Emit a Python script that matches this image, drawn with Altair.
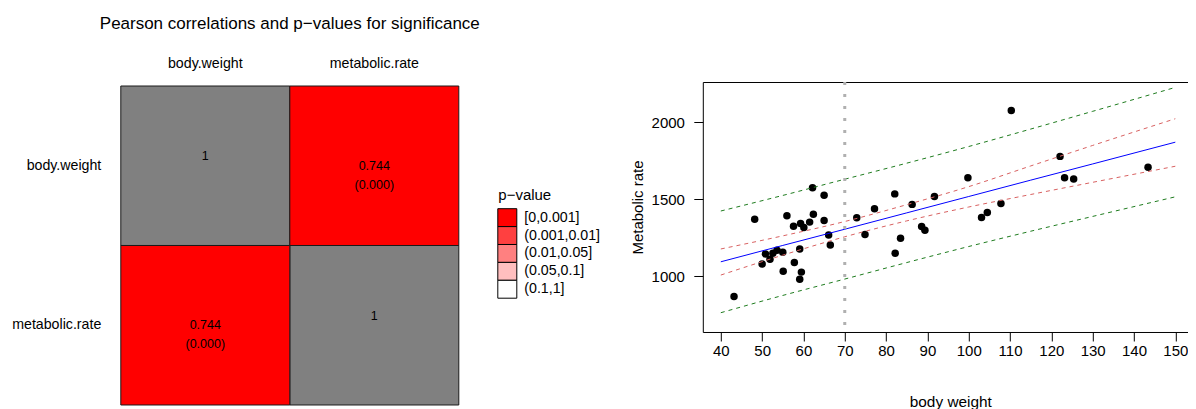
import altair as alt
import pandas as pd

FONT = "Liberation Sans"

# ---------------- correlation heat map ----------------
variables = ["body.weight", "metabolic.rate"]
cell_cols = ["body.weight", "metabolic.rate", "body.weight", "metabolic.rate"]
cell_rows = ["body.weight", "body.weight", "metabolic.rate", "metabolic.rate"]
cell_is_diag = [True, False, False, True]
cell_text = ["1", "0.744\n(0.000)", "0.744\n(0.000)", "1"]
cell_pbin = ["", "[0,0.001]", "[0,0.001]", ""]

pval_title = "p−value"
pval_bins = ["[0,0.001]", "(0.001,0.01]", "(0.01,0.05]", "(0.05,0.1]", "(0.1,1]"]
pval_colors = ["#FF0000", "#FF4040", "#FF8080", "#FFBFBF", "#FFFFFF"]

# ---------------- scatter with regression bands ----------------
body_weight = [43.2, 48.2, 50.0, 50.8, 51.9, 52.6, 53.6, 55.0, 55.1, 56.0,
               57.6, 57.8, 59.1, 59.3, 59.5, 59.1, 60.1, 61.5, 62.4, 62.2,
               65.0, 65.0, 66.1, 66.5, 72.9, 74.9, 77.2, 82.1, 82.2, 83.5,
               86.3, 88.6, 89.4, 91.7, 99.8, 103.1, 104.5, 107.8, 110.3, 122.1,
               123.2, 125.4, 143.4]
metabolic_rate = [870, 1371, 1080, 1146, 1112, 1151, 1170, 1157, 1033, 1393,
                  1325, 1091, 1178, 1343, 1028, 982, 1317, 1352, 1403, 1574,
                  1526, 1363, 1269, 1204, 1380, 1272, 1438, 1535, 1151, 1248,
                  1467, 1324, 1300, 1518, 1639, 1382, 1415, 1473, 2076, 1778,
                  1639, 1631, 1708]

band_x = [40, 55, 70, 85, 100, 115, 130, 150]
fit_y = [1095, 1201, 1306, 1412, 1518, 1624, 1729, 1870]
conf_hi = [1178, 1263, 1356, 1465, 1582, 1716, 1849, 2022]
conf_lo = [1009, 1138, 1257, 1360, 1450, 1531, 1610, 1714]
pred_hi = [1424, 1525, 1630, 1734, 1842, 1955, 2070, 2225]
pred_lo = [765, 877, 983, 1090, 1194, 1293, 1389, 1516]
ref_line_x = [70]

x_ticks = [40, 50, 60, 70, 80, 90, 100, 110, 120, 130, 140, 150]
y_ticks = [1000, 1500, 2000]

# ================= left panel =================
cells = pd.DataFrame({
    "col": cell_cols, "row": cell_rows, "diag": cell_is_diag,
    "label": cell_text, "pbin": cell_pbin,
})
legend_df = pd.DataFrame({"bin": pval_bins, "grp": [pval_title] * len(pval_bins)})

pcolor_scale = alt.Scale(domain=pval_bins, range=pval_colors)

xcol = alt.X("col:N", sort=variables, title=None,
             scale=alt.Scale(paddingInner=0, paddingOuter=0),
             axis=alt.Axis(orient="top", ticks=False, tickSize=0, domain=False,
                           labelAngle=0, labelFontSize=14.2, labelBaseline="alphabetic",
                           labelPadding=14.3, labelColor="black"))
yrow = alt.Y("row:N", sort=variables, title=None,
             scale=alt.Scale(range=[4, 323], paddingInner=0, paddingOuter=0),
             axis=alt.Axis(ticks=False, tickSize=0, domain=False, labelFontSize=14.2,
                           labelPadding=20, labelColor="black", labelAlign="right",
                           labelBaseline="middle"))

diag_rect = alt.Chart(cells).transform_filter("datum.diag").mark_rect(
    fill="#808080", stroke="#1a1a1a", strokeWidth=1).encode(x=xcol, y=yrow)

off_rect = alt.Chart(cells).transform_filter("!datum.diag").mark_rect(
    stroke="#1a1a1a", strokeWidth=1).encode(
    x=xcol, y=yrow,
    color=alt.Color("pbin:N", scale=pcolor_scale, legend=None))

diag_text = alt.Chart(cells).transform_filter("datum.diag").mark_text(
    fontSize=12.5, dy=-9.5, color="black").encode(x=xcol, y=yrow, text="label:N")

off_text = alt.Chart(cells).transform_filter("!datum.diag").mark_text(
    fontSize=12.5, lineBreak="\n", lineHeight=19, color="black").encode(
    x=xcol, y=yrow, text="label:N")

heat = alt.layer(diag_rect, off_rect, diag_text, off_text)

# p-value key, drawn with its own band scales beside the heat map
legend_rect = alt.Chart(legend_df).mark_rect(stroke="black", strokeWidth=1).encode(
    x=alt.X("grp:N", title=None, axis=None,
            scale=alt.Scale(range=[377, 396], paddingInner=0, paddingOuter=0)),
    y=alt.Y("bin:N", sort=pval_bins, title=pval_title,
            scale=alt.Scale(range=[126.7, 216.2], paddingInner=0, paddingOuter=0),
            axis=alt.Axis(orient="right", offset=58, ticks=False, tickSize=0, domain=False,
                          labelFontSize=14.2, labelPadding=7, labelColor="black",
                          labelBaseline="middle",
                          titleAngle=0, titleAlign="left", titleBaseline="alphabetic",
                          titleX=-19, titleY=117, titleFontSize=15,
                          titleFontWeight="normal", titleColor="black")),
    color=alt.Color("bin:N", scale=pcolor_scale, legend=None),
)

left = alt.layer(heat, legend_rect).resolve_scale(x="independent", y="independent").properties(
    width=338, height=323,
    title=alt.TitleParams(text="Pearson correlations and p−values for significance",
                          fontSize=17, fontWeight="normal", anchor="middle",
                          offset=11, baseline="alphabetic", color="black"),
    view=alt.ViewBackground(stroke="transparent"),
)

# ================= right panel =================
pts = pd.DataFrame({"x": body_weight, "y": metabolic_rate})
bands = pd.DataFrame({"x": band_x, "fit": fit_y, "conf_hi": conf_hi, "conf_lo": conf_lo,
                      "pred_hi": pred_hi, "pred_lo": pred_lo})
vline = pd.DataFrame({"x": ref_line_x})

xs = alt.Scale(domain=[35.64, 155.44], nice=False, zero=False)
ys = alt.Scale(domain=[640, 2260], nice=False, zero=False)
x_axis = alt.Axis(values=x_ticks, format="d", tickSize=9, labelPadding=2.5, domain=False,
                  labelFontSize=15, titleFontSize=15.4, titlePadding=36,
                  labelColor="black", tickColor="black", titleColor="black",
                  titleFontWeight="normal", labelFlush=False)
y_axis = alt.Axis(values=y_ticks, format="d", tickSize=9, labelPadding=9.4, domain=False,
                  labelFontSize=15, titleFontSize=15, titlePadding=6,
                  labelColor="black", tickColor="black", titleColor="black",
                  titleFontWeight="normal", labelFlush=False)


def X(field):
    return alt.X(field, type="quantitative", scale=xs, axis=x_axis, title="body weight")


def Y(field):
    return alt.Y(field, type="quantitative", scale=ys, axis=y_axis, title="Metabolic rate")


points = alt.Chart(pts).mark_circle(size=56, color="black", opacity=1).encode(x=X("x"), y=Y("y"))

fit_line = alt.Chart(bands).mark_line(color="#0000FF", strokeWidth=1).encode(x=X("x"), y=Y("fit"))
conf_hi_l = alt.Chart(bands).mark_line(color="#D86060", strokeWidth=1, strokeDash=[4, 4],
                                       interpolate="monotone").encode(x=X("x"), y=Y("conf_hi"))
conf_lo_l = alt.Chart(bands).mark_line(color="#D86060", strokeWidth=1, strokeDash=[4, 4],
                                       interpolate="monotone").encode(x=X("x"), y=Y("conf_lo"))
pred_hi_l = alt.Chart(bands).mark_line(color="#1E7B1E", strokeWidth=1, strokeDash=[4, 4],
                                       interpolate="monotone").encode(x=X("x"), y=Y("pred_hi"))
pred_lo_l = alt.Chart(bands).mark_line(color="#1E7B1E", strokeWidth=1, strokeDash=[4, 4],
                                       interpolate="monotone").encode(x=X("x"), y=Y("pred_lo"))
rule = alt.Chart(vline).mark_rule(color="#B0B0B0", strokeWidth=3, strokeDash=[3, 9]).encode(x=X("x"))

right = alt.layer(points, fit_line, conf_hi_l, conf_lo_l, pred_hi_l, pred_lo_l, rule).properties(
    width=495, height=250,
    view=alt.ViewBackground(stroke="black", strokeWidth=1),
)

chart = alt.hconcat(left, right, spacing=244, bounds="flush").properties(
    padding={"left": 2.8, "top": 6, "right": -11, "bottom": 0}
).configure(font=FONT).configure_axis(grid=False)

chart.save("out.html", embed_options={"renderer": "svg", "actions": False})
